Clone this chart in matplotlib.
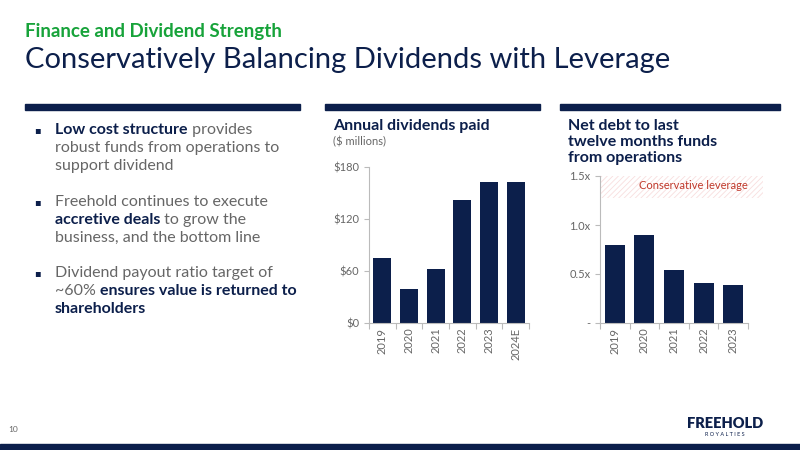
import matplotlib
matplotlib.use("Agg")
import matplotlib.pyplot as plt
from matplotlib.patches import Rectangle

plt.rcParams['font.family'] = ['Lato', 'DejaVu Sans']
plt.rcParams['hatch.linewidth'] = 0.6

div_years = ["2019", "2020", "2021", "2022", "2023", "2024E"]
div_values = [75, 39, 62, 142, 163, 163]
div_ticks = [0, 60, 120, 180]
div_ticklabels = ["$0", "$60", "$120", "$180"]

lev_years = ["2019", "2020", "2021", "2022", "2023"]
lev_values = [0.80, 0.90, 0.54, 0.41, 0.39]
lev_ticks = [0, 0.5, 1.0, 1.5]
lev_ticklabels = ["-", "0.5x", "1.0x", "1.5x"]

NAVY = "#0c1f4b"
GREEN = "#17a33a"
GREY = "#666666"
W, H = 800, 450

fig = plt.figure(figsize=(8, 4.5), dpi=100)
fig.patch.set_facecolor("white")

def fx(x): return x / W
def fy(y): return 1 - y / H

fig.text(fx(25), fy(31), "Finance and Dividend Strength", color=GREEN, fontsize=13.5, fontweight="bold", va="center")
fig.text(fx(25), fy(60), "Conservatively Balancing Dividends with Leverage", color=NAVY, fontsize=21, va="center")

for x0, x1 in [(25, 300), (325, 540), (560, 780)]:
    fig.patches.append(Rectangle((fx(x0), fy(110)), fx(x1 - x0), 6 / H, color=NAVY, transform=fig.transFigure))
fig.patches.append(Rectangle((0, 0), 1, 6 / H, color=NAVY, transform=fig.transFigure))

bullets = [
    (130, [[("Low cost structure", True), (" provides", False)], [("robust funds from operations to", False)], [("support dividend", False)]]),
    (202, [[("Freehold continues to execute", False)], [("accretive deals", True), (" to grow the", False)], [("business, and the bottom line", False)]]),
    (273, [[("Dividend payout ratio target of", False)], [("~60% ", False), ("ensures value is returned to", True)], [("shareholders", True)]]),
]
r = fig.canvas.get_renderer()
for y0, lines in bullets:
    fig.text(fx(34), fy(y0), "▪", color=NAVY, fontsize=7, va="center", family=["DejaVu Sans"])
    for i, line in enumerate(lines):
        x = 55
        for txt, bold in line:
            t = fig.text(fx(x), fy(y0 + i * 18), txt, fontsize=11.5, va="center",
                         color=NAVY if bold else GREY, fontweight="bold" if bold else "normal")
            bb = t.get_window_extent(renderer=r)
            x += bb.width

fig.text(fx(333), fy(126), "Annual dividends paid", color=NAVY, fontsize=11.5, fontweight="bold", va="center")
fig.text(fx(333), fy(142), "($ millions)", color=GREY, fontsize=8, va="center")
for i, s in enumerate(["Net debt to last", "twelve months funds", "from operations"]):
    fig.text(fx(568), fy(126 + i * 16), s, color=NAVY, fontsize=11.5, fontweight="bold", va="center")

def style(ax):
    for s in ["top", "right"]:
        ax.spines[s].set_visible(False)
    for s in ["left", "bottom"]:
        ax.spines[s].set_color("#bbbbbb")
    ax.tick_params(colors="#bbbbbb", labelcolor=GREY, labelsize=8)
    ax.tick_params(axis="x", length=4)

ax1 = fig.add_axes([fx(369), fy(323), fx(160), (323 - 167) / H])
ax1.bar(range(len(div_years)), div_values, width=0.68, color=NAVY)
ax1.set_xlim(-0.5, len(div_years) - 0.5)
ax1.set_ylim(0, 180)
ax1.set_yticks(div_ticks, div_ticklabels)
ax1.set_xticks([i - 0.5 for i in range(len(div_years) + 1)], labels=[""] * (len(div_years) + 1))
ax1.set_xticks(range(len(div_years)), div_years, minor=True)
ax1.tick_params(axis="x", which="minor", length=0, rotation=90, labelcolor=GREY, labelsize=8)
style(ax1)

ax2 = fig.add_axes([fx(600), fy(323), fx(148), (323 - 176) / H])
ax2.bar(range(len(lev_years)), lev_values, width=0.68, color=NAVY)
ax2.set_xlim(-0.5, len(lev_years) - 0.5)
ax2.set_ylim(0, 1.5)
ax2.set_yticks(lev_ticks, lev_ticklabels)
ax2.set_xticks([i - 0.5 for i in range(len(lev_years) + 1)], labels=[""] * (len(lev_years) + 1))
ax2.set_xticks(range(len(lev_years)), lev_years, minor=True)
ax2.tick_params(axis="x", which="minor", length=0, rotation=90, labelcolor=GREY, labelsize=8)
style(ax2)
ax2.axhspan(1.28, 1.5, xmin=0, xmax=1.1, facecolor="none", edgecolor="#f8dede", hatch="//////", linewidth=0, clip_on=False)
ax2.text(1.0, 1.40, "Conservative leverage", color="#c0392b", fontsize=8, ha="right", va="center",
         transform=ax2.get_yaxis_transform())

fig.text(fx(8), fy(430), "10", color=GREY, fontsize=6, va="center")
fig.text(fx(725), fy(423), "FREEHOLD", color=NAVY, fontsize=10.5, fontweight="heavy", ha="center", va="center")
fig.text(fx(725), fy(434), "R O Y A L T I E S", color=NAVY, fontsize=4, ha="center", va="center")

fig.savefig("out.png", dpi=100, facecolor="white")
